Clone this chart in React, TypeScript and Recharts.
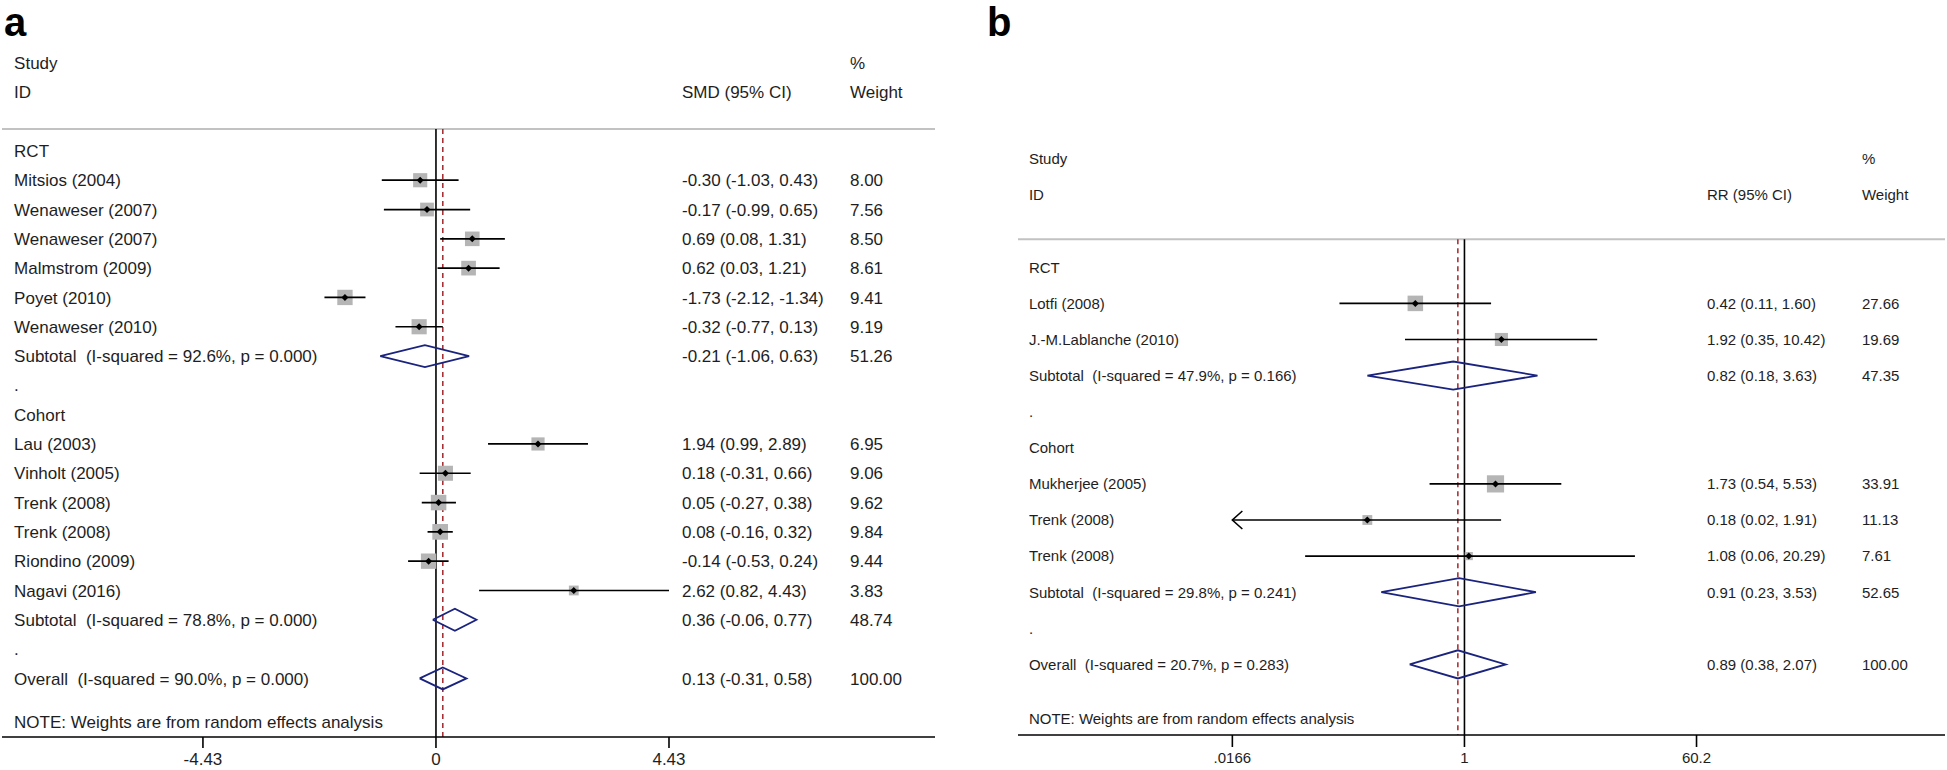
import React from 'react';
import { ComposedChart, XAxis, YAxis, Scatter, ReferenceLine } from 'recharts';

const FONT = '"Liberation Sans", Arial, sans-serif';
const TEXT = '#1e1e1e';
const NAVY = '#1a237e';
const RED = '#a3262a';

// ---- panel a: standardised mean difference ----
const groupsA = ['RCT', 'Cohort'];
const studiesA = [
  'Mitsios (2004)', 'Wenaweser (2007)', 'Wenaweser (2007)', 'Malmstrom (2009)', 'Poyet (2010)', 'Wenaweser (2010)',
  'Lau (2003)', 'Vinholt (2005)', 'Trenk (2008)', 'Trenk (2008)', 'Riondino (2009)', 'Nagavi (2016)',
];
const studyGroupA = [0, 0, 0, 0, 0, 0, 1, 1, 1, 1, 1, 1];
const estA = [-0.3, -0.17, 0.69, 0.62, -1.73, -0.32, 1.94, 0.18, 0.05, 0.08, -0.14, 2.62];
const lowA = [-1.03, -0.99, 0.08, 0.03, -2.12, -0.77, 0.99, -0.31, -0.27, -0.16, -0.53, 0.82];
const highA = [0.43, 0.65, 1.31, 1.21, -1.34, 0.13, 2.89, 0.66, 0.38, 0.32, 0.24, 4.43];
const weightA = [8.0, 7.56, 8.5, 8.61, 9.41, 9.19, 6.95, 9.06, 9.62, 9.84, 9.44, 3.83];
const subLabelA = ['Subtotal  (I-squared = 92.6%, p = 0.000)', 'Subtotal  (I-squared = 78.8%, p = 0.000)'];
const subEstA = [-0.21, 0.36];
const subLowA = [-1.06, -0.06];
const subHighA = [0.63, 0.77];
const subWeightA = [51.26, 48.74];
const overallLabelA = 'Overall  (I-squared = 90.0%, p = 0.000)';
const overallA = [0.13, -0.31, 0.58]; // estimate, lower, upper
const ticksA = [-4.43, 0, 4.43];

// ---- panel b: risk ratio ----
const groupsB = ['RCT', 'Cohort'];
const studiesB = ['Lotfi (2008)', 'J.-M.Lablanche (2010)', 'Mukherjee (2005)', 'Trenk (2008)', 'Trenk (2008)'];
const studyGroupB = [0, 0, 1, 1, 1];
const estB = [0.42, 1.92, 1.73, 0.18, 1.08];
const lowB = [0.11, 0.35, 0.54, 0.016, 0.06];
const highB = [1.6, 10.42, 5.53, 1.91, 20.29];
const weightB = [27.66, 19.69, 33.91, 11.13, 7.61];
const subLabelB = ['Subtotal  (I-squared = 47.9%, p = 0.166)', 'Subtotal  (I-squared = 29.8%, p = 0.241)'];
const subEstB = [0.82, 0.91];
const subLowB = [0.18, 0.23];
const subHighB = [3.63, 3.53];
const subWeightB = [47.35, 52.65];
const overallLabelB = 'Overall  (I-squared = 20.7%, p = 0.283)';
const overallB = [0.89, 0.38, 2.07];
const ticksB = [0.0166, 1, 60.2];

const NOTE = 'NOTE: Weights are from random effects analysis';

interface Row {
  r: number;
  kind: 'group' | 'study' | 'sub' | 'blank' | 'overall';
  label: string;
  est?: number;
  lo?: number;
  hi?: number;
  w?: number;
}

function buildRows(d: any): Row[] {
  const rows: Row[] = [];
  let r = 3;
  d.groups.forEach((g: string, gi: number) => {
    rows.push({ r: r++, kind: 'group', label: g });
    d.studies.forEach((s: string, i: number) => {
      if (d.studyGroup[i] !== gi) return;
      rows.push({ r: r++, kind: 'study', label: s, est: d.est[i], lo: d.low[i], hi: d.high[i], w: d.weight[i] });
    });
    rows.push({
      r: r++, kind: 'sub', label: d.subLabel[gi],
      est: d.subEst[gi], lo: d.subLow[gi], hi: d.subHigh[gi], w: d.subWeight[gi],
    });
    rows.push({ r: r++, kind: 'blank', label: '.' });
  });
  rows.push({ r, kind: 'overall', label: d.overallLabel, est: d.overall[0], lo: d.overall[1], hi: d.overall[2], w: 100 });
  return rows;
}

const ci = (e: number, l: number, h: number) => `${e.toFixed(2)} (${l.toFixed(2)}, ${h.toFixed(2)})`;

const hidden = () => <g />;

function ForestPanel({ d, cfg }: { d: any; cfg: any }) {
  const rows = buildRows(d);
  const overallRow = rows[rows.length - 1];
  const tMin = d.ticks[0];
  const tMax = d.ticks[d.ticks.length - 1];

  const texts: any[] = [
    { x: cfg.colLabel, y: 0, text: 'Study' },
    { x: cfg.colLabel, y: 1, text: 'ID' },
    { x: cfg.colCI, y: 1, text: d.measure },
    { x: cfg.colW, y: 0, text: '%' },
    { x: cfg.colW, y: 1, text: 'Weight' },
    { x: cfg.colLabel, y: overallRow.r + 1.5, text: NOTE },
  ];
  rows.forEach((row) => {
    texts.push({ x: cfg.colLabel, y: row.r, text: row.label });
    if (row.est !== undefined) {
      texts.push({ x: cfg.colCI, y: row.r, text: ci(row.est, row.lo!, row.hi!) });
      texts.push({ x: cfg.colW, y: row.r, text: row.w!.toFixed(2) });
    }
  });

  const studies = rows.filter((row) => row.kind === 'study');
  const boxes = studies.map((s) => ({ x: s.est, y: s.r, w: s.w }));
  const arrows: any[] = [];
  const ciLines = studies.map((s) => {
    const lo = Math.max(s.lo!, tMin);
    const hi = Math.min(s.hi!, tMax);
    if (s.lo! < tMin) arrows.push({ x: tMin, y: s.r, dir: 1 });
    if (s.hi! > tMax) arrows.push({ x: tMax, y: s.r, dir: -1 });
    return [{ x: lo, y: s.r }, { x: hi, y: s.r }];
  });
  const diamonds = rows
    .filter((row) => row.kind === 'sub' || row.kind === 'overall')
    .map((s) => [
      { x: s.lo, y: s.r },
      { x: s.est, y: s.r - cfg.diamondHalf },
      { x: s.hi, y: s.r },
      { x: s.est, y: s.r + cfg.diamondHalf },
      { x: s.lo, y: s.r },
    ]);

  const textShape = (p: any) => (
    <text x={p.cx} y={p.cy} dy="0.36em" fontSize={cfg.fontSize} fontFamily={FONT} fill={TEXT} style={{ whiteSpace: 'pre' }}>
      {p.payload.text}
    </text>
  );
  const boxShape = (p: any) => {
    const s = cfg.boxScale * Math.sqrt(p.payload.w);
    return <rect x={p.cx - s / 2} y={p.cy - s / 2} width={s} height={s} fill="#b5b5b5" />;
  };
  const dotShape = (p: any) => (
    <polygon
      points={`${p.cx - 3.5},${p.cy} ${p.cx},${p.cy - 3.5} ${p.cx + 3.5},${p.cy} ${p.cx},${p.cy + 3.5}`}
      fill="#000"
    />
  );
  const arrowShape = (p: any) => {
    const dx = 10 * p.payload.dir;
    return (
      <polyline
        points={`${p.cx + dx},${p.cy - 9} ${p.cx},${p.cy} ${p.cx + dx},${p.cy + 9}`}
        fill="none"
        stroke="#000"
        strokeWidth={1.6}
      />
    );
  };

  return (
    <div style={{ position: 'absolute', left: cfg.left, top: 0 }}>
      <ComposedChart width={cfg.width} height={770} margin={{ top: 0, right: 0, bottom: 0, left: 0 }}>
        <XAxis
          type="number"
          dataKey="x"
          scale={cfg.log ? 'log' : 'linear'}
          domain={cfg.xDomain}
          allowDataOverflow
          ticks={d.ticks}
          interval={0}
          height={cfg.axisHeight}
          tickSize={cfg.tickSize}
          tickMargin={cfg.tickMargin}
          tickFormatter={(v: number) => (cfg.log && v < 1 ? String(v).replace(/^0/, '') : String(v))}
          axisLine={{ stroke: '#000', strokeWidth: 1.6 }}
          tickLine={{ stroke: '#000', strokeWidth: 1.6 }}
          tick={{ fill: TEXT, fontSize: cfg.fontSize, fontFamily: FONT }}
        />
        <YAxis type="number" dataKey="y" domain={cfg.yDomain} reversed hide allowDataOverflow />

        <ReferenceLine y={cfg.lineRow} stroke="#c2c2c2" strokeWidth={2} />
        <ReferenceLine
          segment={[{ x: cfg.nullValue, y: cfg.lineRow }, { x: cfg.nullValue, y: cfg.yDomain[1] }]}
          stroke="#000"
          strokeWidth={1.6}
        />
        <ReferenceLine
          segment={[{ x: overallRow.est, y: cfg.lineRow }, { x: overallRow.est, y: cfg.yDomain[1] }]}
          stroke={RED}
          strokeWidth={1.5}
          strokeDasharray="5 4"
        />

        <Scatter data={boxes} shape={boxShape} isAnimationActive={false} />
        {ciLines.map((pts, i) => (
          <Scatter
            key={`ci${i}`}
            data={pts}
            shape={hidden}
            line={{ stroke: '#000', strokeWidth: 1.7 }}
            isAnimationActive={false}
          />
        ))}
        <Scatter data={boxes} shape={dotShape} isAnimationActive={false} />
        <Scatter data={arrows} shape={arrowShape} isAnimationActive={false} />
        {diamonds.map((pts, i) => (
          <Scatter
            key={`dm${i}`}
            data={pts}
            shape={hidden}
            line={{ stroke: NAVY, strokeWidth: 1.8, strokeLinejoin: 'miter' }}
            isAnimationActive={false}
          />
        ))}
        <Scatter data={texts} shape={textShape} isAnimationActive={false} />
      </ComposedChart>
    </div>
  );
}

const dataA = {
  groups: groupsA, studies: studiesA, studyGroup: studyGroupA, est: estA, low: lowA, high: highA, weight: weightA,
  subLabel: subLabelA, subEst: subEstA, subLow: subLowA, subHigh: subHighA, subWeight: subWeightA,
  overallLabel: overallLabelA, overall: overallA, ticks: ticksA, measure: 'SMD (95% CI)',
};
const dataB = {
  groups: groupsB, studies: studiesB, studyGroup: studyGroupB, est: estB, low: lowB, high: highB, weight: weightB,
  subLabel: subLabelB, subEst: subEstB, subLow: subLowB, subHigh: subHighB, subWeight: subWeightB,
  overallLabel: overallLabelB, overall: overallB, ticks: ticksB, measure: 'RR (95% CI)',
};

const cfgA = {
  left: 2, width: 933, log: false, nullValue: 0,
  xDomain: [-8.25, 9.487], yDomain: [-2.15, 23.0], axisHeight: 33,
  fontSize: 17, tickSize: 11, tickMargin: 5, boxScale: 5, diamondHalf: 0.375,
  colLabel: -8.02, colCI: 4.677, colW: 7.871, lineRow: 2.25,
};
const cfgB = {
  left: 1018, width: 927, log: true, nullValue: 1,
  xDomain: [0.000377, 4842], yDomain: [-4.404, 15.956], axisHeight: 35,
  fontSize: 15, tickSize: 12, tickMargin: 5, boxScale: 2.95, diamondHalf: 0.39,
  colLabel: 0.000457, colCI: 72.4, colW: 1117, lineRow: 2.22,
};

const panelLetter = (left: number): React.CSSProperties => ({
  position: 'absolute', left, top: 0, fontFamily: FONT, fontWeight: 700, fontSize: 40, lineHeight: '45px', color: '#000',
});

export default function App() {
  return (
    <div style={{ position: 'absolute', left: 0, top: 0, width: 1947, height: 770, background: '#fff', overflow: 'hidden' }}>
      <ForestPanel d={dataA} cfg={cfgA} />
      <ForestPanel d={dataB} cfg={cfgB} />
      <div style={panelLetter(4)}>a</div>
      <div style={panelLetter(987)}>b</div>
    </div>
  );
}
